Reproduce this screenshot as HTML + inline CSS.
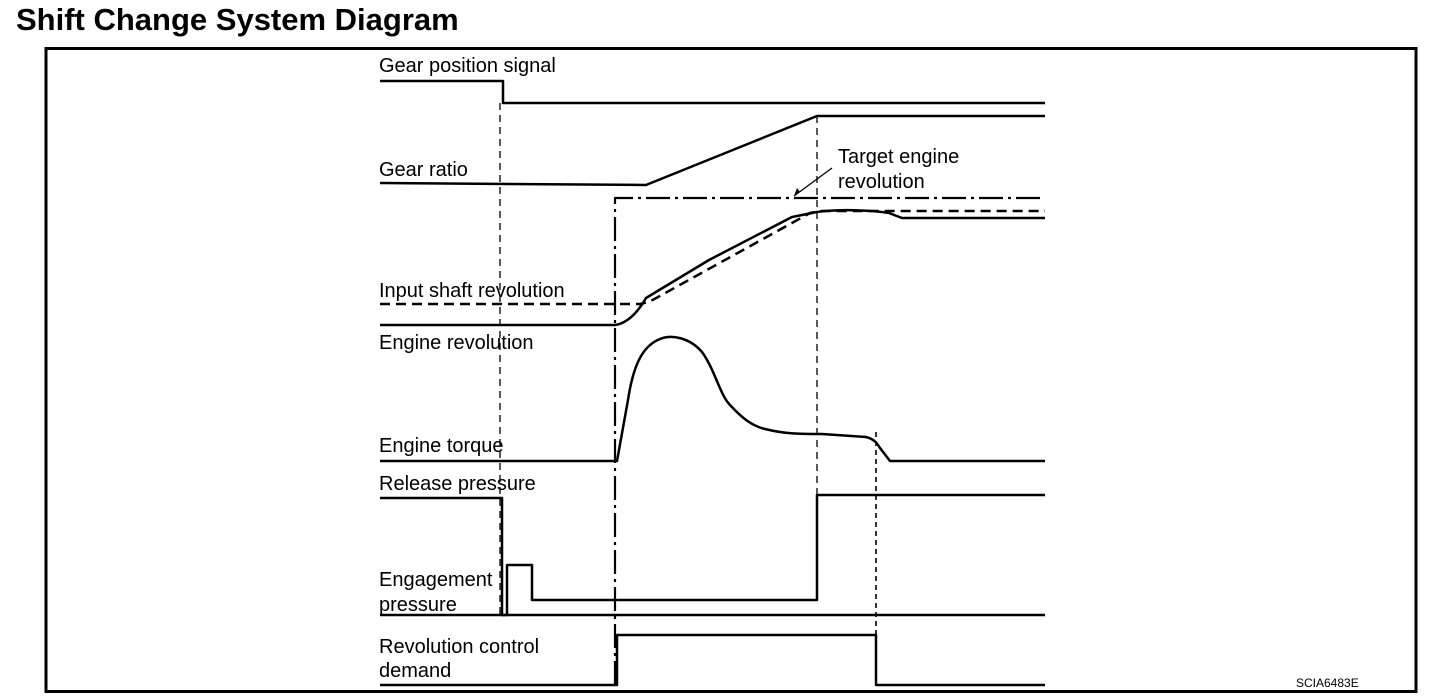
<!DOCTYPE html>
<html><head><meta charset="utf-8"><style>
html,body{margin:0;padding:0;background:#fff;}
svg{display:block;}
text{font-family:"Liberation Sans",Arial,sans-serif;fill:#000;}
</style></head><body>
<svg width="1456" height="700" viewBox="0 0 1456 700" xmlns="http://www.w3.org/2000/svg">
<text x="16" y="30" font-size="31" font-weight="bold">Shift Change System Diagram</text>
<rect x="46" y="48.5" width="1370" height="643" fill="none" stroke="#000" stroke-width="3"/>
<g font-size="20">
<text x="379" y="72">Gear position signal</text>
<text x="379" y="176">Gear ratio</text>
<text x="838" y="163">Target engine</text>
<text x="838" y="188">revolution</text>
<text x="379" y="297">Input shaft revolution</text>
<text x="379" y="349">Engine revolution</text>
<text x="379" y="452">Engine torque</text>
<text x="379" y="490">Release pressure</text>
<text x="379" y="586">Engagement</text>
<text x="379" y="611">pressure</text>
<text x="379" y="653">Revolution control</text>
<text x="379" y="677">demand</text>
</g>
<text x="1296" y="687" font-size="12">SCIA6483E</text>
<g fill="none" stroke="#000" stroke-width="1.3">
<line x1="500" y1="103" x2="500" y2="615" stroke-dasharray="7,5"/>
<line x1="817" y1="116" x2="817" y2="495" stroke-dasharray="7,5"/>
<line x1="876" y1="432" x2="876" y2="685" stroke-dasharray="5,4" stroke-width="1.6"/>
<line x1="832" y1="168" x2="794" y2="196"/>
</g>
<path d="M794,196 l3,-8 l3,4 z" fill="#000"/>
<g fill="none" stroke="#000" stroke-width="2.5" stroke-linejoin="round">
<path d="M380,81 H503 V103 H1045"/>
<path d="M380,183 L646,185 L817,116 H1045"/>
<path d="M615,685 V198 H1045" stroke-dasharray="24,5,3,5" stroke-width="2.2"/>
<path d="M380,325 H615 C628,323 638,312 646,298 L709,260 L792,217 L817,212 C840,209 870,210 889,213 L902,218 H1045"/>
<path d="M380,304 H640 L649,302 L810,213 L820,211 H1045" stroke-dasharray="10,6"/>
<path d="M380,461 H617 L628,400 C634,360 645,345 660,339 C672,334 690,338 702,352 C715,370 720,395 730,405 C742,418 752,426 765,429 C785,434 800,434 822,434 L866,437 C874,439 877,443 880,448 L890,461 H1045"/>
<path d="M380,498 H502 V615 H1045"/>
<path d="M380,615 H507 V565 H532 V600 H817 V495 H1045"/>
<path d="M380,685 H617 V635 H876 V685 H1045"/>
</g>
</svg>
</body></html>
